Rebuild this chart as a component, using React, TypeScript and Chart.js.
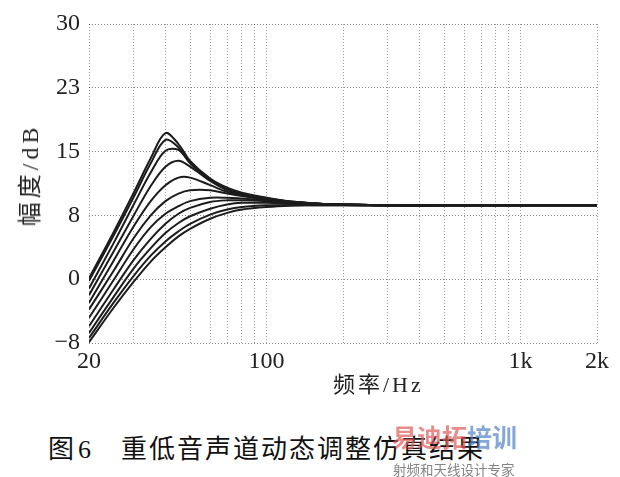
import React, { useEffect, useRef } from "react";
import { Chart, registerables } from "chart.js";

Chart.register(...registerables);

// Frequencies (Hz)
const freqs = [20, 25, 30, 35, 40, 45, 50, 60, 70, 80, 100, 125, 160, 200, 300, 500, 1000, 2000];

// Magnitude curves (dB)
const curve1 = [-0.3, 5.2, 9.9, 14.0, 17.0, 15.7, 13.7, 11.6, 10.5, 9.9, 9.3, 8.85, 8.6, 8.5, 8.4, 8.4, 8.4, 8.4];
const curve2 = [-0.6, 4.8, 9.4, 13.4, 16.2, 15.3, 13.5, 11.5, 10.4, 9.8, 9.25, 8.85, 8.6, 8.5, 8.4, 8.4, 8.4, 8.4];
const curve3 = [-1.5, 3.9, 8.5, 12.3, 14.9, 15.0, 13.4, 11.4, 10.3, 9.7, 9.2, 8.8, 8.6, 8.5, 8.4, 8.4, 8.4, 8.4];
const curve4 = [-2.3, 2.9, 7.2, 10.7, 13.0, 13.7, 13.0, 11.3, 10.2, 9.7, 9.2, 8.8, 8.6, 8.5, 8.4, 8.4, 8.4, 8.4];
const curve5 = [-3.2, 1.8, 5.9, 8.9, 10.8, 11.7, 11.7, 10.8, 10.0, 9.6, 9.1, 8.8, 8.6, 8.5, 8.4, 8.4, 8.4, 8.4];
const curve6 = [-4.0, 0.6, 4.5, 7.2, 8.9, 9.8, 10.2, 10.2, 9.8, 9.5, 9.1, 8.8, 8.6, 8.5, 8.4, 8.4, 8.4, 8.4];
const curve7 = [-5.0, -0.5, 3.2, 5.8, 7.4, 8.3, 8.9, 9.3, 9.3, 9.2, 9.0, 8.75, 8.55, 8.45, 8.4, 8.4, 8.4, 8.4];
const curve8 = [-6.0, -1.6, 1.9, 4.4, 6.2, 7.4, 8.1, 8.8, 9.0, 9.0, 8.9, 8.7, 8.55, 8.45, 8.4, 8.4, 8.4, 8.4];
const curve9 = [-6.8, -2.5, 0.9, 3.3, 5.1, 6.3, 7.1, 8.0, 8.5, 8.7, 8.7, 8.6, 8.5, 8.45, 8.4, 8.4, 8.4, 8.4];
const curve10 = [-7.4, -3.2, 0.0, 2.4, 4.1, 5.3, 6.2, 7.3, 7.9, 8.2, 8.4, 8.45, 8.4, 8.4, 8.4, 8.4, 8.4, 8.4];
const curve11 = [-7.9, -3.8, -0.7, 1.7, 3.4, 4.7, 5.6, 6.8, 7.5, 7.9, 8.2, 8.35, 8.4, 8.4, 8.4, 8.4, 8.4, 8.4];

const curves = [curve1, curve2, curve3, curve4, curve5, curve6, curve7, curve8, curve9, curve10, curve11];

// Axis ticks
const xGridValues = [20, 30, 40, 50, 60, 70, 80, 90, 100, 200, 300, 400, 500, 600, 700, 800, 900, 1000, 2000];
const xTickLabels: Record<number, string> = { 20: "20", 100: "100", 1000: "1k", 2000: "2k" };
const yTickValues = [-8, -0.4, 7.2, 14.8, 22.4, 30];
const yTickLabels = ["\u22128", "0", "8", "15", "23", "30"];

const serif = '"Liberation Serif", "Noto Sans CJK SC", serif';

export default function App() {
  const ref = useRef<HTMLCanvasElement>(null);

  useEffect(() => {
    if (!ref.current) return;
    const chart = new Chart(ref.current, {
      type: "line",
      data: {
        datasets: curves.map((c, i) => ({
          label: "c" + (i + 1),
          data: freqs.map((f, j) => ({ x: f, y: c[j] })),
          borderColor: "#1c1c1c",
          borderWidth: 2,
          pointRadius: 0,
          fill: false,
          tension: 0.35,
        })),
      },
      options: {
        animation: false,
        responsive: false,
        layout: { padding: { top: 24, right: 23, bottom: 0, left: 0 } },
        plugins: { legend: { display: false }, tooltip: { enabled: false } },
        scales: {
          x: {
            type: "logarithmic",
            min: 20,
            max: 2000,
            afterBuildTicks: (s: any) => {
              s.ticks = xGridValues.map((v) => ({ value: v }));
            },
            afterFit: (s: any) => {
              s.height = 67;
            },
            ticks: {
              autoSkip: false,
              maxRotation: 0,
              padding: 4,
              color: "#222",
              font: { family: serif, size: 24 },
              callback: (v: any) => xTickLabels[Number(v)] ?? "",
            },
            grid: {
              color: "rgba(0,0,0,0.38)",
              drawTicks: false,
              lineWidth: 1,
            },
            border: { display: false, dash: [1, 2] },
          },
          y: {
            type: "linear",
            min: -8,
            max: 30,
            afterBuildTicks: (s: any) => {
              s.ticks = yTickValues.map((v) => ({ value: v }));
            },
            afterFit: (s: any) => {
              s.width = 89;
            },
            ticks: {
              padding: 9,
              color: "#222",
              font: { family: serif, size: 24 },
              callback: (_v: any, i: number) => yTickLabels[i] ?? "",
            },
            grid: {
              color: "rgba(0,0,0,0.48)",
              drawTicks: false,
              lineWidth: 1,
            },
            border: { display: false, dash: [1, 2] },
          },
        },
      },
    } as any);
    return () => chart.destroy();
  }, []);

  return (
    <div style={{ position: "fixed", left: 0, top: 0, width: 620, height: 477, background: "#fff" }}>
      <canvas ref={ref} width={620} height={410} style={{ position: "absolute", left: 0, top: 0, width: 620, height: 410 }} />
      <div
        style={{
          position: "absolute",
          left: 30,
          top: 175,
          transform: "translate(-50%, -50%) rotate(-90deg)",
          whiteSpace: "nowrap",
          fontFamily: serif,
          fontSize: 24,
          letterSpacing: 4,
          color: "#222",
          lineHeight: "26px",
        }}
      >
        幅度/dB
      </div>
      <div
        style={{
          position: "absolute",
          left: 333,
          top: 372,
          whiteSpace: "nowrap",
          fontFamily: serif,
          fontSize: 22,
          letterSpacing: 3,
          color: "#222",
          lineHeight: "26px",
        }}
      >
        频率/Hz
      </div>
      <div
        style={{
          position: "absolute",
          left: 48,
          top: 436,
          whiteSpace: "nowrap",
          fontFamily: serif,
          fontSize: 26,
          color: "#111",
          lineHeight: "28px",
        }}
      >
        <span>图</span>
        <span style={{ marginLeft: 4 }}>6</span>
        <span style={{ marginLeft: 30, letterSpacing: 2 }}>重低音声道动态调整仿真结果</span>
      </div>
      <div
        style={{
          position: "absolute",
          left: 392,
          top: 421,
          whiteSpace: "nowrap",
          fontFamily: '"Noto Sans CJK SC", sans-serif',
          fontWeight: 700,
          fontSize: 25,
          lineHeight: "30px",
        }}
      >
        <span style={{ color: "rgba(222,90,90,0.7)" }}>易迪拓</span>
        <span style={{ color: "rgba(80,130,200,0.7)" }}>培训</span>
      </div>
      <div
        style={{
          position: "absolute",
          left: 393,
          top: 461,
          whiteSpace: "nowrap",
          fontFamily: '"Noto Sans CJK SC", sans-serif',
          fontSize: 13.5,
          color: "rgba(110,110,110,0.85)",
          lineHeight: "16px",
        }}
      >
        射频和天线设计专家
      </div>
    </div>
  );
}
